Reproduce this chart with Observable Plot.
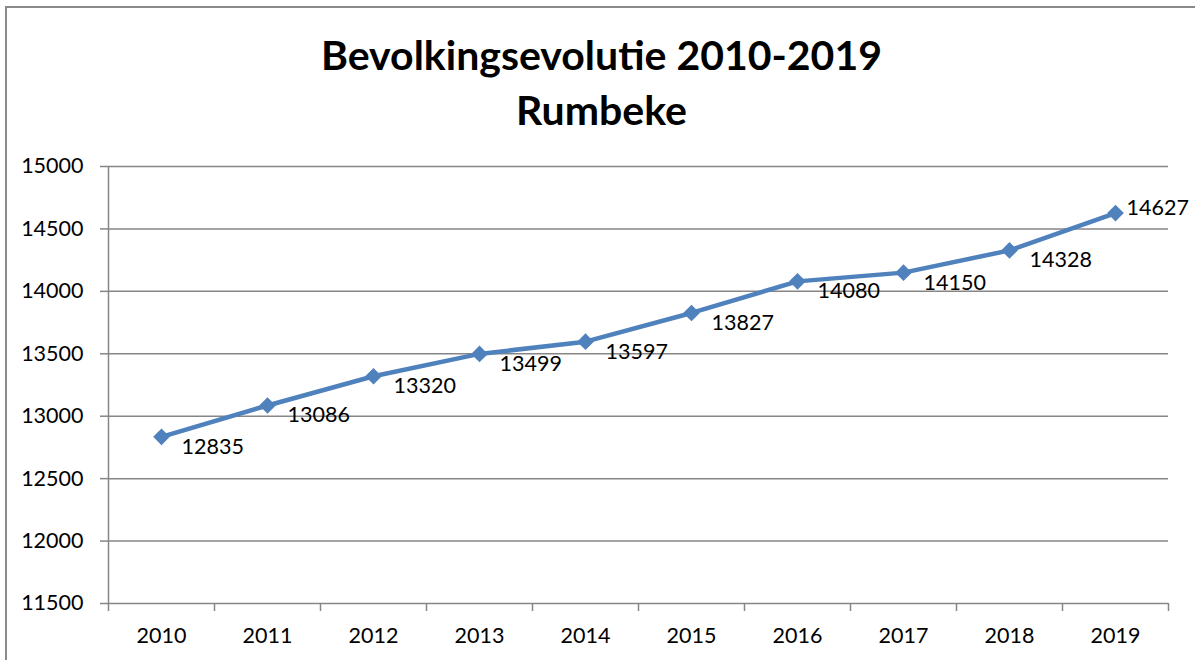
<!DOCTYPE html>
<html>
<head>
<meta charset="utf-8">
<script src="https://cdn.jsdelivr.net/npm/d3@7"></script>
<script src="https://cdn.jsdelivr.net/npm/@observablehq/plot@0.6"></script>
<style>
  html, body { margin: 0; padding: 0; background: #fff; }
  #wrap { position: relative; width: 1195px; height: 660px; overflow: hidden; font-family: Lato, "Open Sans", sans-serif; }
  #frame { position: absolute; left: 5px; top: 6px; width: 1250px; height: 720px; border: 2px solid #8a8a8a; box-sizing: border-box; }
  #title { position: absolute; left: 8px; width: 1187px; top: 27px; text-align: center; font-weight: 700; font-size: 41px; line-height: 55px; color: #000; }
  #chart { position: absolute; left: 0; top: 0; }
</style>
</head>
<body>
<div id="wrap">
  <div id="frame"></div>
  <div id="title">Bevolkingsevolutie 2010-2019<br>Rumbeke</div>
  <div id="chart"></div>
</div>
<script>
const years = [2010, 2011, 2012, 2013, 2014, 2015, 2016, 2017, 2018, 2019];
const population = [12835, 13086, 13320, 13499, 13597, 13827, 14080, 14150, 14328, 14627];
const yTicks = [11500, 12000, 12500, 13000, 13500, 14000, 14500, 15000];

const data = years.map((year, i) => ({year, value: population[i]}));
const boundaries = [years[0] - 0.5, ...years.map(y => y + 0.5)];
const gridColor = "#868686";
const lineColor = "#4F81BD";
const lastIndex = data.length - 1;

const chart = Plot.plot({
  width: 1195,
  height: 660,
  marginTop: 166,
  marginBottom: 57,
  marginLeft: 108,
  marginRight: 27,
  style: {fontFamily: "Lato, 'Open Sans', sans-serif", fontSize: "21px", color: "#000", background: "transparent", overflow: "visible"},
  x: {domain: [years[0] - 0.5, years[years.length - 1] + 0.5], axis: null},
  y: {domain: [yTicks[0], yTicks[yTicks.length - 1]], axis: null},
  marks: [
    Plot.ruleY(yTicks, {stroke: gridColor, strokeWidth: 1.5}),
    Plot.ruleX([boundaries[0]], {y1: yTicks[0], y2: yTicks[yTicks.length - 1], stroke: gridColor, strokeWidth: 1.5}),
    Plot.ruleX(boundaries, {y1: yTicks[0], y2: yTicks[0], insetBottom: -8, stroke: gridColor, strokeWidth: 1.5}),
    Plot.ruleY(yTicks, {x1: boundaries[0], x2: boundaries[0], insetLeft: -8, stroke: gridColor, strokeWidth: 1.5}),
    Plot.text(yTicks, {x: boundaries[0], y: d => d, text: d => String(d), textAnchor: "end", dx: -25, fill: "#000", fontSize: 21.5}),
    Plot.text(years, {x: d => d, y: yTicks[0], text: d => String(d), dy: 33, fill: "#000", fontSize: 21.5}),
    Plot.line(data, {x: "year", y: "value", stroke: lineColor, strokeWidth: 4.5}),
    Plot.dot(data, {x: "year", y: "value", symbol: "diamond2", r: 7.5, fill: lineColor, stroke: null}),
    Plot.text(data.slice(0, lastIndex), {x: "year", y: "value", text: d => String(d.value), textAnchor: "start", dx: 20, dy: 10, fill: "#000", fontSize: 21.5}),
    Plot.text(data.slice(lastIndex), {x: "year", y: "value", text: d => String(d.value), textAnchor: "start", dx: 11, dy: -5, fill: "#000", fontSize: 21.5})
  ]
});
document.getElementById("chart").appendChild(chart);
</script>
</body>
</html>
